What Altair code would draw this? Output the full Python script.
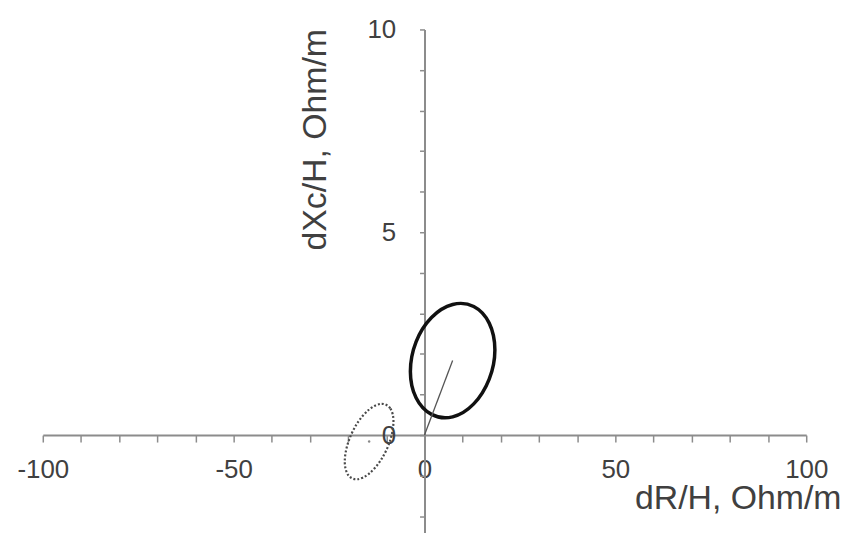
import altair as alt
import pandas as pd

# Solid ellipse outline, going round from the right
solid_x = [18.44, 16.95, 12.90, 7.37, 1.84, -2.21, -3.70, -2.21, 1.84, 7.37, 12.90, 16.95]
solid_y = [2.10, 2.76, 3.17, 3.22, 2.90, 2.30, 1.57, 0.92, 0.51, 0.45, 0.77, 1.38]

# Dotted ellipse outline, going round from the right
dotted_x = [-8.13, -8.98, -11.32, -14.51, -17.70, -20.03, -20.89, -20.03, -17.70, -14.51, -11.32, -8.98]
dotted_y = [0.34, 0.66, 0.77, 0.63, 0.28, -0.19, -0.65, -0.98, -1.09, -0.95, -0.60, -0.13]

# radius line from origin to solid ellipse centre
vec_x = [0.0, 7.37]
vec_y = [0.0, 1.84]

# centre of dotted ellipse
dot_x = [-14.5]
dot_y = [-0.16]

x_ticks = list(range(-100, 101, 10))
y_ticks = list(range(-2, 11, 1))

X_DOM = [-100, 100]
Y_DOM = [-2.4, 10]
W = 768
H = 506

solid = pd.DataFrame({"x": solid_x, "y": solid_y, "i": range(len(solid_x))})
dotted = pd.DataFrame({"x": dotted_x, "y": dotted_y, "i": range(len(dotted_x))})
vec = pd.DataFrame({"x": vec_x, "y": vec_y, "i": range(len(vec_x))})
dot = pd.DataFrame({"x": dot_x, "y": dot_y})

y0_from_top = H * (Y_DOM[1] - 0) / (Y_DOM[1] - Y_DOM[0])
x_off = -(H - y0_from_top)
x0_from_left = W * (0 - X_DOM[0]) / (X_DOM[1] - X_DOM[0])
y_off = -x0_from_left

FONT = "Liberation Sans"
TXT = "#404040"
AX = "#8c8c8c"

xenc = alt.X(
    "x:Q",
    scale=alt.Scale(domain=X_DOM, nice=False, zero=False),
    axis=alt.Axis(
        values=x_ticks,
        tickCount=100,
        labelExpr="datum.value % 50 === 0 ? '' + datum.value : ''",
        offset=x_off,
        grid=False,
        domainColor=AX, domainWidth=2,
        tickColor=AX, tickWidth=1.5, tickSize=7,
        labelFont=FONT, labelFontSize=26, labelColor=TXT,
        labelPadding=15, labelFlush=False, labelOverlap=False,
        title="dR/H, Ohm/m",
        titleFont=FONT, titleFontSize=34, titleFontWeight="normal", titleColor=TXT,
        titleAlign="right", titleBaseline="alphabetic",
        titleX=803, titleY=74,
    ),
)
yenc = alt.Y(
    "y:Q",
    scale=alt.Scale(domain=Y_DOM, nice=False, zero=False),
    axis=alt.Axis(
        values=y_ticks,
        tickCount=100,
        labelExpr="datum.value % 5 === 0 ? '' + datum.value : ''",
        offset=y_off,
        grid=False,
        domainColor=AX, domainWidth=2,
        tickColor=AX, tickWidth=1.5, tickSize=5,
        labelFont=FONT, labelFontSize=26, labelColor=TXT,
        labelPadding=24, labelFlush=False, labelOverlap=False,
        labelBaseline="middle",
        title="dXc/H, Ohm/m",
        titleFont=FONT, titleFontSize=34, titleFontWeight="normal", titleColor=TXT,
        titleAngle=270, titleAlign="center", titleBaseline="alphabetic",
        titleX=-100, titleY=110.5,
    ),
)

solid_layer = alt.Chart(solid).mark_line(
    interpolate="cardinal-closed", color="#111111", strokeWidth=3.5
).encode(x=xenc, y=yenc, order="i:Q")

dotted_layer = alt.Chart(dotted).mark_line(
    interpolate="cardinal-closed", color="#4a4a4a", strokeWidth=2.2, strokeDash=[2, 2]
).encode(x="x:Q", y="y:Q", order="i:Q")

vec_layer = alt.Chart(vec).mark_line(color="#555555", strokeWidth=1.3).encode(
    x="x:Q", y="y:Q", order="i:Q"
)

dot_layer = alt.Chart(dot).mark_point(filled=True, color="#555555", size=6).encode(
    x="x:Q", y="y:Q"
)

chart = alt.layer(solid_layer, vec_layer, dotted_layer, dot_layer).properties(
    width=W,
    height=H,
    background="white",
    padding={"left": 35, "top": 20, "right": 36, "bottom": 0},
    autosize=alt.AutoSizeParams(type="none"),
).configure_view(strokeWidth=0, stroke="transparent")

chart.save("out.html", embed_options={"renderer": "svg", "actions": False})
